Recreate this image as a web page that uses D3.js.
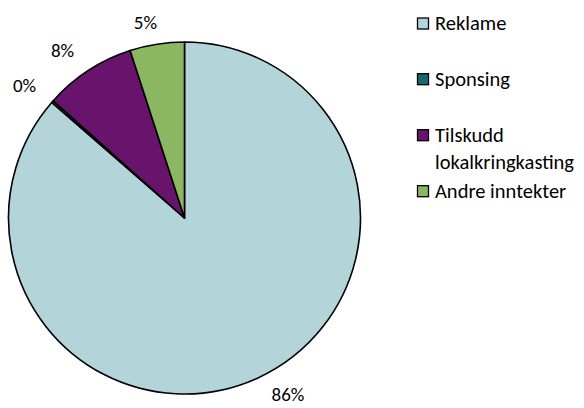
<!DOCTYPE html>
<html>
<head>
<meta charset="utf-8">
<script src="https://cdn.jsdelivr.net/npm/d3@7"></script>
<style>
  html, body { margin: 0; padding: 0; background: #fff; }
  svg text { font-family: Carlito, Calibri, Lato, "Open Sans", sans-serif; fill: #000; }
</style>
</head>
<body>
<svg id="chart" width="584" height="408"></svg>
<script>
// Revenue shares (percent)
const categories = ["Reklame", "Sponsing", "Tilskudd lokalkringkasting", "Andre inntekter"];
const legendLines = [["Reklame"], ["Sponsing"], ["Tilskudd", "lokalkringkasting"], ["Andre inntekter"]];
const values = [86.4, 0.2, 8.4, 5.0];
const colors = ["#b3d5da", "#17696e", "#68146c", "#8cb762"];

const svg = d3.select("#chart");
const cx = 184.5, cy = 218, r = 176;

const pie = d3.pie().sort(null).value(d => d.value);
const arcs = pie(categories.map((c, i) => ({ name: c, value: values[i], color: colors[i] })));
const arc = d3.arc().innerRadius(0).outerRadius(r);

const g = svg.append("g").attr("transform", `translate(${cx},${cy})`);
g.selectAll("path.slice")
  .data(arcs)
  .join("path")
  .attr("class", "slice")
  .attr("d", arc)
  .attr("fill", d => d.data.color)
  .attr("stroke", "#000")
  .attr("stroke-width", 1.6)
  .attr("stroke-linejoin", "round");

// Percentage labels outside each slice, nudged off the rim
const labelRadius = 205;
const labelNudge = [[18.5, -10], [-6.2, 3.5], [-10, 4], [-7, 6.5]];
g.selectAll("text.pct")
  .data(arcs)
  .join("text")
  .attr("class", "pct")
  .attr("text-anchor", "middle")
  .attr("dominant-baseline", "central")
  .attr("font-size", 19)
  .attr("x", (d, i) => Math.sin((d.startAngle + d.endAngle) / 2) * labelRadius + labelNudge[i][0])
  .attr("y", (d, i) => -Math.cos((d.startAngle + d.endAngle) / 2) * labelRadius + labelNudge[i][1])
  .text(d => Math.round(d.data.value) + "%");

// Legend
const legendBaseline = [30, 85.7, 141.7, 197.7];
const lg = svg.append("g");
legendLines.forEach((lines, i) => {
  lg.append("rect")
    .attr("x", 417.5).attr("y", legendBaseline[i] - 12)
    .attr("width", 11).attr("height", 11)
    .attr("fill", colors[i]).attr("stroke", "#000").attr("stroke-width", 1.3);
  lines.forEach((t, j) => {
    lg.append("text")
      .attr("x", 435).attr("y", legendBaseline[i] + j * 27.3)
      .attr("font-size", 20.5)
      .text(t);
  });
});
</script>
</body>
</html>
